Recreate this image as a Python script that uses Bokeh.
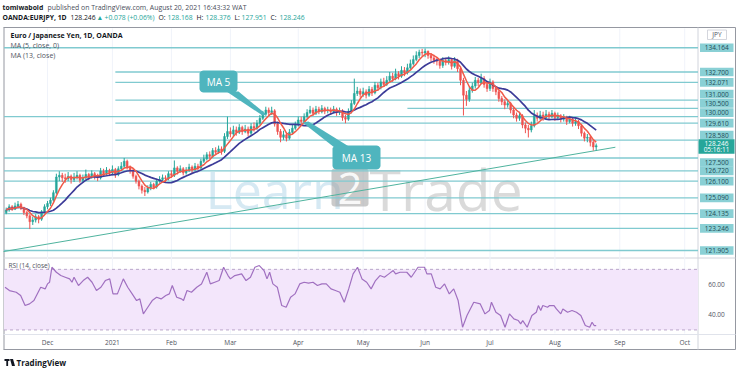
import numpy as np
import pandas as pd
from bokeh.plotting import figure
from bokeh.models import Range1d, ColumnDataSource
from bokeh.embed import file_html
from bokeh.resources import INLINE
from bokeh.core.properties import value

# ---------------- data ----------------
first_bar = -14          # bar index of first visible bar (index 0 = 1 Dec 2020)
first_open = 124.20
closes = [124.35,124.55,124.40,124.60,124.70,124.45,124.20,124.00,123.65,123.75,123.95,123.80,124.25,124.55,
          124.75,124.95,125.40,126.35,126.45,126.30,126.25,126.40,126.20,126.35,
          126.45,126.15,126.30,126.50,126.35,126.55,126.40,126.30,126.70,126.55,
          126.75,126.60,126.80,126.50,126.85,127.00,127.30,126.95,126.75,126.40,
          126.10,125.80,125.55,125.45,125.70,125.90,125.75,126.10,126.20,126.30,
          126.25,126.55,126.45,126.90,126.70,126.85,126.60,126.75,126.95,126.80,
          127.00,126.90,127.30,127.45,127.70,127.60,127.95,127.85,128.05,127.90,
          128.80,129.10,128.95,129.20,129.05,129.35,129.10,129.25,129.00,129.40,
          129.30,129.60,129.90,130.15,130.40,130.25,130.35,129.55,129.10,128.75,
          128.90,128.70,129.05,129.30,129.50,129.80,129.70,130.00,130.25,130.40,
          130.20,130.45,130.30,130.50,130.35,130.40,130.30,130.45,130.25,130.35,
          129.95,129.85,130.30,130.80,131.40,131.55,131.35,131.50,131.30,131.65,
          131.45,131.90,131.75,132.10,131.95,132.20,132.45,132.30,132.60,132.45,
          132.80,132.65,132.95,133.20,133.45,133.70,133.90,133.85,133.95,133.70,
          133.55,133.40,133.35,133.10,133.40,133.30,133.45,133.05,133.40,132.90,
          132.20,131.30,131.05,131.60,131.85,132.20,132.05,132.30,131.95,131.70,
          132.10,131.70,131.50,131.10,130.90,130.70,130.80,130.40,130.10,129.90,
          130.05,129.50,129.30,129.20,129.45,130.05,129.90,130.10,129.95,130.15,
          130.00,130.20,129.95,130.05,129.85,129.95,129.70,129.85,129.60,129.70,
          129.45,129.00,128.70,128.75,128.45,128.168,128.246]
highs = [124.50,124.70,124.65,124.80,124.90,124.80,124.55,124.30,124.10,123.95,124.10,124.05,124.35,124.70,
         124.90,125.10,125.55,126.55,126.70,126.60,126.55,126.65,126.50,126.60,
         126.70,126.55,126.50,126.80,126.60,126.75,126.65,126.55,126.90,126.85,
         126.95,126.85,127.05,126.90,127.00,127.25,127.50,127.40,127.05,126.85,
         126.50,126.20,125.90,125.75,125.85,126.05,126.00,126.25,126.40,126.50,
         126.45,126.70,126.75,127.35,127.00,127.05,126.95,126.95,127.15,127.05,
         127.20,127.15,127.45,127.70,127.85,127.90,128.10,128.15,128.25,128.20,
         129.00,130.00,129.35,129.45,129.40,129.55,129.45,129.50,129.40,129.60,
         129.65,129.80,130.10,130.35,130.60,130.55,130.60,130.45,129.70,129.25,
         129.15,129.05,129.25,129.50,129.70,130.00,130.00,130.20,130.45,130.65,
         130.55,130.65,130.60,130.70,130.60,130.60,130.55,130.65,130.55,130.55,
         130.45,130.10,130.50,131.00,132.30,131.80,131.70,131.75,131.65,131.85,
         131.80,132.10,132.05,132.30,132.35,132.45,132.70,132.65,132.90,132.75,
         133.05,133.00,133.20,133.45,133.70,133.95,134.05,134.10,134.12,134.00,
         133.85,133.75,133.60,133.50,133.60,133.55,133.65,133.55,133.60,133.50,
         133.00,132.35,131.55,131.80,132.05,132.40,132.35,132.60,132.45,132.10,
         132.30,132.20,131.85,131.60,131.25,131.05,131.00,130.90,130.55,130.25,
         130.30,130.15,129.65,129.50,129.70,130.40,130.25,130.35,130.30,130.40,
         130.30,130.40,130.30,130.25,130.15,130.15,130.05,130.05,129.95,129.90,
         129.80,129.55,129.10,128.95,128.85,128.55,128.376]
lows = [124.10,124.25,124.30,124.35,124.45,124.35,124.05,123.85,123.20,123.45,123.60,123.55,123.70,124.15,
        124.40,124.60,124.85,125.30,126.10,126.05,126.00,126.10,125.95,126.05,
        126.20,126.00,126.00,126.20,126.15,126.25,126.20,126.10,126.20,126.40,
        126.45,126.40,126.45,126.30,126.40,126.75,126.90,126.80,126.55,126.25,
        125.95,125.60,125.35,125.20,125.35,125.55,125.60,125.65,126.00,126.05,
        126.05,126.15,126.30,126.35,126.50,126.60,126.45,126.50,126.65,126.60,
        126.70,126.75,126.80,127.20,127.35,127.45,127.50,127.70,127.75,127.70,
        127.80,128.65,128.75,128.80,128.85,128.95,128.90,129.00,128.80,128.90,
        129.10,129.20,129.50,129.80,130.05,130.05,130.10,129.40,128.90,128.45,
        128.60,128.50,128.60,128.95,129.20,129.40,129.55,129.60,129.90,130.15,
        130.05,130.10,130.15,130.20,130.15,130.20,130.10,130.20,130.05,130.10,
        129.75,129.60,129.75,130.20,130.70,131.25,131.15,131.20,131.10,131.20,
        131.25,131.35,131.55,131.65,131.80,131.85,132.10,132.10,132.20,132.25,
        132.35,132.45,132.55,132.85,133.10,133.35,133.55,133.65,133.60,133.50,
        133.35,133.20,133.10,132.90,132.95,133.10,133.15,132.85,132.95,132.70,
        131.90,130.07,130.65,130.90,131.45,131.70,131.85,131.95,131.75,131.50,
        131.55,131.50,131.30,130.90,130.70,130.45,130.55,130.20,129.90,129.70,
        129.75,129.30,129.00,128.74,129.05,129.35,129.70,129.80,129.75,129.85,
        129.80,129.90,129.75,129.80,129.65,129.70,129.50,129.60,129.40,129.45,
        129.25,128.80,128.50,128.45,128.20,127.95,127.951]

month_labels = ["Dec", "2021", "Feb", "Mar", "Apr", "May", "Jun", "Jul", "Aug", "Sep", "Oct"]
month_idx = [0, 22, 42, 62, 85, 107, 128, 150, 172, 194, 216]

level_prices = [134.164, 132.700, 132.071, 131.000, 130.500, 130.000, 129.610, 128.580,
                127.500, 126.720, 126.100, 125.090, 124.135, 123.246, 121.905]
level_labels = ["134.164", "132.700", "132.071", "131.000", "130.500", "130.000", "129.610", "128.580",
                "127.500", "126.720", "126.100", "125.090", "124.135", "123.246", "121.905"]
level_start = [None, 23, 23, 23, 122, None, 23, 23, None, None, None, None, None, None, None]

trend_idx = [-14.9, 192.5]
trend_price = [121.84, 128.15]

last_price = 128.246
countdown = "05:16:11"

rsi_idx = [-14.4,-12.9,-10.6,-9.1,-7.6,-6.1,-4.6,-2.3,-0.8,0.0,0.7,1.5,3.0,4.5,6.0,7.5,8.3,9.0,10.5,12.1,
           13.6,15.1,16.6,18.1,19.6,21.1,22.2,23.7,25.7,27.2,28.7,30.2,31.3,32.5,34.0,35.5,37.0,38.5,40.1,41.3,
           42.3,43.8,45.4,46.1,47.3,48.8,50.6,52.2,54.0,55.2,56.7,58.2,59.7,61.2,62.0,63.5,65.8,67.3,68.8,70.3,
           71.8,73.4,74.4,75.3,76.4,77.9,79.4,80.9,82.4,83.9,85.5,87.0,88.5,90.0,91.5,93.0,94.5,96.1,97.6,99.1,
           100.6,102.1,103.6,105.1,106.6,108.2,109.7,111.2,112.7,114.2,115.7,117.2,118.0,119.5,121.8,123.3,125.6,127.8,128.6,130.1,
           131.6,133.1,134.6,136.2,137.7,139.2,140.7,142.2,144.5,146.7,148.3,149.8,150.5,152.0,153.6,155.1,156.6,158.1,159.6,160.4,
           161.1,162.6,164.2,165.7,166.4,167.2,167.9,169.5,170.2,171.7,172.5,174.0,174.7,176.3,177.8,179.3,180.8,182.3,183.8,184.6,
           185.3,186.0]
rsi_val = [58.2,56.0,54.9,52.7,46.1,47.2,49.4,58.2,57.1,60.4,61.5,71.4,68.1,65.9,64.8,63.7,61.5,64.8,59.3,62.6,
           64.8,61.5,56.0,58.2,62.6,63.7,53.8,53.8,63.7,58.2,53.8,49.4,50.5,40.6,45.0,49.4,51.6,50.5,52.7,53.8,
           59.3,51.6,50.5,49.4,56.0,54.9,58.2,60.4,68.1,60.4,61.5,62.6,71.4,65.9,63.7,65.9,67.0,62.6,64.8,71.4,
           72.5,69.2,63.7,68.1,60.4,58.2,46.1,45.0,51.6,53.8,60.4,61.5,60.9,61.5,59.3,60.4,60.4,57.1,56.0,54.9,
           48.3,57.1,67.0,71.4,63.7,61.5,57.1,62.6,65.9,64.8,67.0,69.2,67.0,68.1,68.1,64.8,71.4,71.4,67.0,67.0,
           58.2,57.1,60.4,53.8,57.1,49.4,31.8,39.5,48.3,47.2,40.6,42.8,48.3,41.7,39.5,31.8,40.6,37.3,36.2,34.0,
           36.2,31.8,39.5,41.7,46.1,42.8,46.1,45.0,46.1,46.1,43.9,40.6,43.9,41.7,42.8,41.7,39.5,32.9,31.8,35.1,
           32.9,32.9]

# ---------------- layout helpers (reference-pixel geometry) ----------------
W, H = 740, 373
def X(rx):            # reference x -> canvas px
    return float(rx)
def CY(ry):           # reference y -> canvas px from top
    return float(ry)
def Y(cy):            # canvas px from top -> data y (bottom-up)
    return H - cy

BAR0_X, BAR_W = 47.0, 2.95          # reference x of bar 0 and px per bar
def idx_at(rx):
    return (rx - BAR0_X) / BAR_W
x_left, x_right = idx_at(0.0), idx_at(W)
pane_l, pane_r = idx_at(3.5), idx_at(697.5)

def lin_range(v1, ry1, v2, ry2):
    c1, c2 = CY(ry1), CY(ry2)
    k = (v1 - v2) / (c2 - c1)
    return v1 - (H - c1) * k, v1 + c1 * k
p_bot, p_top = lin_range(134.164, 47.3, 121.905, 250.0)
r_bot, r_top = lin_range(70.0, 268.85, 30.0, 329.45)
def cy_price(v):
    return (p_top - v) / (p_top - p_bot) * H

FONT = value("Open Sans")

p = figure(width=W, height=H, output_backend="svg", toolbar_location=None,
           x_range=Range1d(x_left, x_right), y_range=Range1d(0, H),
           x_axis_location=None, y_axis_location=None, min_border=0,
           outline_line_color=None, background_fill_color="white", border_fill_color="white")
p.extra_x_ranges = {"px": Range1d(0, W)}
p.extra_y_ranges = {"price": Range1d(p_bot, p_top), "rsi": Range1d(r_bot, r_top)}
p.grid.visible = False

def txt(x, y, s, size="7px", color="#131722", style="normal", align="left", baseline="middle", alpha=1.0):
    p.text(x=[x], y=[y], text=[s], x_range_name="px", text_font=FONT, text_font_size=size,
           text_color=color, text_font_style=style, text_align=align, text_baseline=baseline,
           text_alpha=alpha)

def hline(x0, x1, y, color="#b2b5be", width=1.0):
    p.segment(x0=[x0], y0=[y], x1=[x1], y1=[y], x_range_name="px", line_color=color, line_width=width)

def vline(x, y0, y1, color="#b2b5be", width=1.0):
    p.segment(x0=[x], y0=[y0], x1=[x], y1=[y1], x_range_name="px", line_color=color, line_width=width)

def round_box(l, r, t, b, rad, color, alpha=1.0):
    xs, ys = [], []
    for cx, cy, a0 in [(r - rad, t + rad, -90), (r - rad, b - rad, 0), (l + rad, b - rad, 90), (l + rad, t + rad, 180)]:
        for a in np.linspace(a0, a0 + 90, 6):
            xs.append(cx + rad * np.cos(np.radians(a)))
            ys.append(Y(cy + rad * np.sin(np.radians(a))))
    p.patch(xs, ys, x_range_name="px", fill_color=color, line_color=None, fill_alpha=alpha)

# ---------------- header ----------------
hdr1, hdr2 = 6.5, 16.5
txt(X(2), Y(hdr1), "tomiwabold", style="bold", size="6.8px")
txt(X(47), Y(hdr1), "published on TradingView.com, August 20, 2021 16:43:32 WAT", color="#4a4e5a", size="6.9px")
up = "#26a69a"
segs = [("OANDA:EURJPY, 1D", 2, "#131722", "bold"), (f"{last_price:.3f}", 70, "#131722", "normal"),
        ("\u25B2", 96, up, "normal"), ("+0.078 (+0.06%)", 104, up, "normal"),
        ("O:", 158, "#131722", "normal"), ("128.168", 167, up, "normal"),
        ("H:", 196, "#131722", "normal"), ("128.376", 205, up, "normal"),
        ("L:", 234, "#131722", "normal"), ("127.951", 241, up, "normal"),
        ("C:", 270, "#131722", "normal"), (f"{last_price:.3f}", 279, up, "normal")]
for s, xx, c, st in segs:
    txt(X(xx), Y(hdr2), s, color=c, style=st, size="6.8px")

# ---------------- frame ----------------
ft, fb = CY(27), CY(349)
hline(X(3), X(735), Y(ft), "#9598a1")
hline(X(3), X(735), Y(fb), "#9598a1")
vline(X(3.5), Y(ft), Y(fb), "#9598a1")
vline(X(735), Y(ft), Y(fb), "#9598a1")
vline(X(697.5), Y(ft), Y(fb), "#d1d4dc")
hline(X(3), X(735), Y(CY(257.5)), "#d1d4dc")
hline(X(3), X(735), Y(CY(334)), "#e0e3eb")

# faint vertical grid
for m in month_idx:
    if m < pane_r:
        p.segment(x0=[m], y0=[Y(CY(28))], x1=[m], y1=[Y(CY(333))], line_color="#f0f3fa", line_width=1)

# ---------------- watermark ----------------
txt(X(205), Y(CY(188)), "Learn", size="52px", color="#cfe5f1", baseline="middle", alpha=0.85)
round_box(X(331), X(368), CY(168), CY(206), 3, "#9e9e9e", 0.55)
txt(X(349.5), Y(CY(188)), "2", size="44px", color="#ffffff", align="center", alpha=0.9)
txt(X(369), Y(CY(188)), "Trade", size="57px", color="#d4d4d4", alpha=0.85)

# ---------------- horizontal levels & trend line ----------------
lvl_color = "#80cad0"
for pr, st in zip(level_prices, level_start):
    x0 = pane_l if st is None else st
    p.segment(x0=[x0], y0=[pr], x1=[pane_r], y1=[pr], y_range_name="price",
              line_color=lvl_color, line_width=1.4)

p.line(trend_idx, trend_price, y_range_name="price", line_color="#4fb39e", line_width=1)

# ---------------- candles ----------------
n = len(closes)
idx = np.arange(first_bar, first_bar + n)
opens = [first_open] + closes[:-1]
o = np.array(opens); c = np.array(closes)
is_up = c >= o
src = ColumnDataSource(dict(
    x=idx, top=np.maximum(o, c), bottom=np.minimum(o, c), high=highs, low=lows,
    color=np.where(is_up, "#26a69a", "#ef5350")))
p.segment(x0="x", y0="low", x1="x", y1="high", source=src, y_range_name="price",
          line_color="color", line_width=1)
p.vbar(x="x", width=0.62, top="top", bottom="bottom", source=src, y_range_name="price",
       fill_color="color", line_color="color", line_width=0.5)

cs = pd.Series(closes)
ma5 = cs.rolling(5, min_periods=1).mean()
ma13 = cs.rolling(13, min_periods=1).mean()
p.line(idx, ma13.values, y_range_name="price", line_color="#3c3b98", line_width=1.7)
p.line(idx, ma5.values, y_range_name="price", line_color="#f05a48", line_width=1.5)

# ---------------- callouts ----------------
call = "#4fb5be"
p.patch([X(226), X(238), X(266), X(262)], [Y(CY(91)), Y(CY(91)), Y(CY(114)), Y(CY(115))],
        x_range_name="px", fill_color=call, line_color=None)
round_box(X(199), X(237), CY(70), CY(92), 4, call)
txt(X(218), Y(CY(81.5)), "MA 5", size="10px", color="white", align="center")
p.patch([X(302), X(308), X(350), X(334)], [Y(CY(122)), Y(CY(121)), Y(CY(147)), Y(CY(147))],
        x_range_name="px", fill_color=call, line_color=None)
round_box(X(332), X(380), CY(145), CY(169), 4, call)
txt(X(356), Y(CY(157.5)), "MA 13", size="10px", color="white", align="center")

# ---------------- legends ----------------
txt(X(10), Y(CY(34.5)), "Euro / Japanese Yen, 1D, OANDA", style="bold")
txt(X(10), Y(CY(44.5)), "MA (5, close, 0)", color="#50535e")
txt(X(10), Y(CY(54.5)), "MA (13, close)", color="#50535e")

# ---------------- price axis labels ----------------
label_shift = {"131.000": -6, "130.500": -5, "130.000": -4, "128.580": -5, "127.500": 4.5}
bx0, bx1 = X(699.5), X(733)
for pr, lab in zip(level_prices, level_labels):
    cy = cy_price(pr) + label_shift.get(lab, 0)
    p.quad(left=[bx0], right=[bx1], top=[Y(cy - 4.3)], bottom=[Y(cy + 4.3)], x_range_name="px",
           fill_color="#8ad0d5", line_color=None)
    txt((bx0 + bx1) / 2, Y(cy), lab, size="6.5px", color="#1e4c55", align="center")
cyl = cy_price(last_price)
p.quad(left=[X(698)], right=[X(734)], top=[Y(cyl - 6.5)], bottom=[Y(cyl + 8)], x_range_name="px",
       fill_color="#26a69a", line_color=None)
txt((X(698) + X(734)) / 2, Y(cyl - 2.5), f"{last_price:.3f}", size="6.5px", color="white", align="center")
txt((X(698) + X(734)) / 2, Y(cyl + 4), countdown, size="6.5px", color="white", align="center")
p.quad(left=[X(707)], right=[X(726)], top=[Y(CY(29.5))], bottom=[Y(CY(39))], x_range_name="px",
       fill_color="white", line_color="#c9ccd4", line_width=0.8)
txt(X(716.5), Y(CY(34.3)), "JPY", size="6.5px", color="#50535e", align="center")

# ---------------- RSI pane ----------------
p.quad(left=[pane_l], right=[pane_r], top=[70], bottom=[30], y_range_name="rsi",
       fill_color="#f3e6fb", line_color=None)
for lv in (70, 30):
    p.segment(x0=[pane_l], y0=[lv], x1=[pane_r], y1=[lv], y_range_name="rsi",
              line_color="#b9a7c9", line_width=1, line_dash="3 3")
p.line(rsi_idx, rsi_val, y_range_name="rsi", line_color="#a070c0", line_width=1.2)
txt(X(8), Y(CY(265)), "RSI (14, close)", color="#50535e", size="6.5px")
for lv in (60, 40):
    p.text(x=[X(716)], y=[lv], text=[f"{lv:.2f}"], x_range_name="px", y_range_name="rsi",
           text_font=FONT, text_font_size="6.5px", text_color="#50535e", text_align="center",
           text_baseline="middle")

# ---------------- time axis ----------------
p.text(x=month_idx, y=[Y(CY(341.5))] * len(month_idx), text=month_labels, text_font=FONT,
       text_font_size="6.5px", text_color="#50535e", text_align="center", text_baseline="middle")

# ---------------- footer ----------------
fy = 362
p.quad(left=[X(4)], right=[X(9)], top=[Y(fy - 3.5)], bottom=[Y(fy - 1.5)], x_range_name="px",
       fill_color="#131722", line_color=None)
p.quad(left=[X(5.8)], right=[X(7.6)], top=[Y(fy - 3.5)], bottom=[Y(fy + 3.5)], x_range_name="px",
       fill_color="#131722", line_color=None)
p.patch([X(9.5), X(12.5), X(14.5), X(11.5)], [Y(fy - 3.5), Y(fy - 3.5), Y(fy + 3.5), Y(fy + 3.5)],
        x_range_name="px", fill_color="#131722", line_color=None)
txt(X(16), Y(fy), "TradingView", size="8px", style="bold", color="#131722")

open("out.html", "w").write(file_html(p, INLINE))
